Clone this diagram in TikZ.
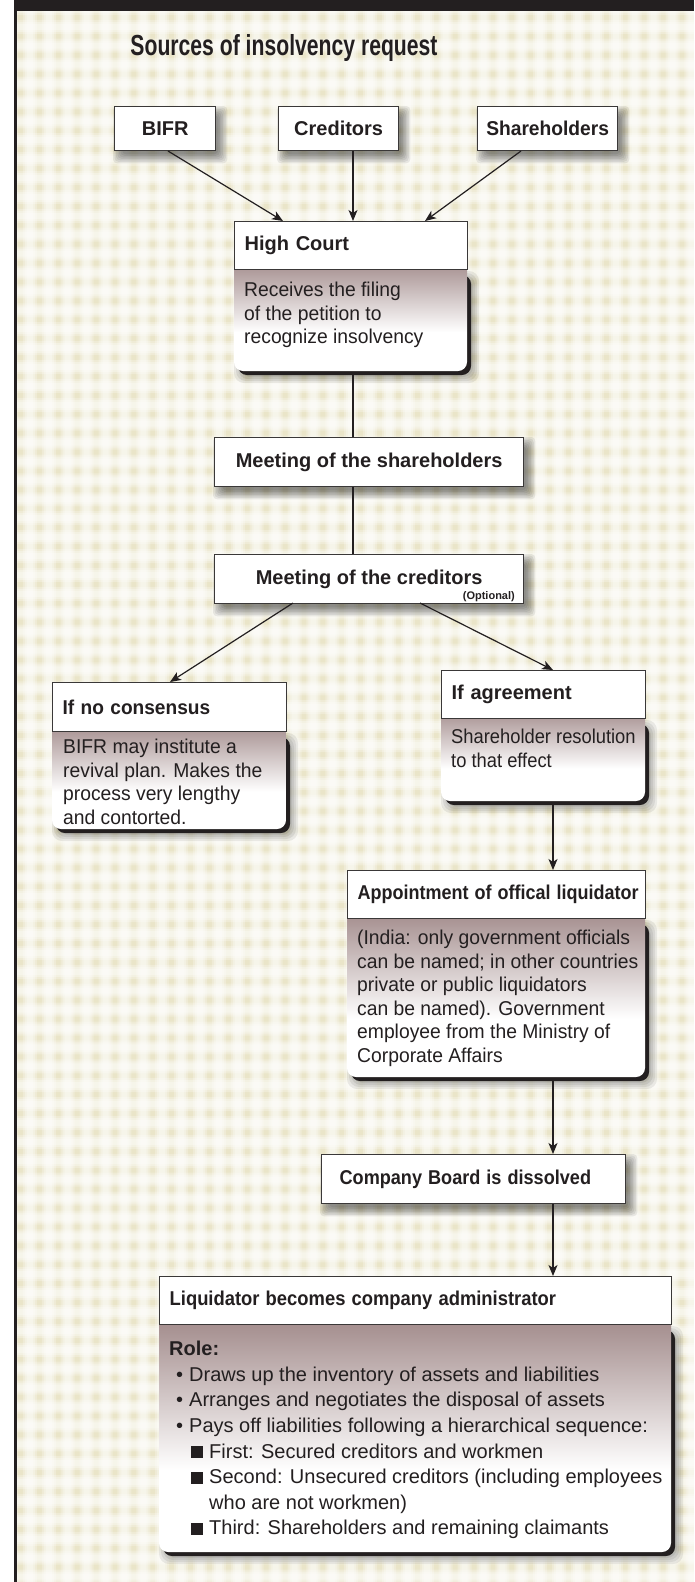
\documentclass[tikz,border=0pt]{standalone}
\usepackage{fontspec}
\usepackage{graphicx}
\setmainfont{Liberation Sans}
\newfontfamily\bodyfam[FakeStretch=0.965]{Liberation Sans}
\usetikzlibrary{arrows.meta,calc}
\definecolor{ink}{RGB}{35,31,32}
\definecolor{edge}{RGB}{58,56,56}
\definecolor{beige}{RGB}{234,229,201}
\definecolor{mauve}{RGB}{158,134,134}
\pgfdeclareverticalshading{bodyshade}{100bp}{color(0bp)=(white); color(25bp)=(white); color(42bp)=(white); color(75bp)=(mauve); color(100bp)=(mauve)}
\pgfdeclarelayer{bg}\pgfdeclarelayer{sh}\pgfdeclarelayer{body}
\pgfsetlayers{bg,sh,body,main}
\newcommand\hdfont{\fontsize{20}{24}\selectfont\bfseries}
\newcommand\bdfont{\bodyfam\fontsize{20}{23.6}\selectfont}
\newcommand\sq[2]{\scalebox{#1}[1]{#2}}
\newcommand\softsh[1]{%
  \begin{pgfonlayer}{sh}
    \foreach \r in {-3,-1.5,0,1.5,3,4.5,6}{%
      \fill[black,opacity=0.075,rounded corners=4pt] ($(#1.north west)+(5-\r,6-\r)$) rectangle ($(#1.south east)+(5+\r,6+\r)$);}
  \end{pgfonlayer}}
\newcommand\panel[4]{%
  \begin{pgfonlayer}{sh}
    \foreach \r in {-2,0,2,4,6}{%
      \fill[black,opacity=0.07,rounded corners=10pt] (#1+6-\r,#2+8-\r) rectangle (#3+6+\r,#4+6+\r);}
  \end{pgfonlayer}
  \begin{pgfonlayer}{body}
    \fill[ink,rounded corners=9pt] (#1+4,#2+6) rectangle (#3+4,#4+4);
    \shade[shading=bodyshade,rounded corners=9pt] (#1,#2-12) rectangle (#3,#4);
  \end{pgfonlayer}}
\tikzset{
  box/.style={draw=edge,line width=1.3pt,fill=white,inner sep=0pt,anchor=north west,font=\hdfont,text=ink},
  lbox/.style={box,align=left,inner xsep=10pt},
  btext/.style={anchor=north west,font=\bdfont,text=ink,align=left,inner sep=0pt},
  conn/.style={draw=ink,line width=1.2pt,-{Stealth[length=11pt,width=9pt,inset=3pt]}},
  link/.style={draw=ink,line width=1.2pt},
}
\begin{document}
\begin{tikzpicture}[x=1pt,y=-1pt]
\useasboundingbox (0,0) rectangle (694,1582);
% background
\begin{pgfonlayer}{bg}
  \fill[beige] (17,11) rectangle (694,1582);
  \begin{scope}
    \clip (17,11) rectangle (694,1582);
    \fill[white,opacity=0.25] \foreach \i in {0,...,36} {(11+18.9*\i-7,11) rectangle ++(14,1571)};
    \fill[white,opacity=0.3] \foreach \i in {0,...,36} {(11+18.9*\i-5,11) rectangle ++(10,1571)};
    \fill[white,opacity=0.3] \foreach \i in {0,...,36} {(11+18.9*\i-3,11) rectangle ++(6,1571)};
    \fill[white,opacity=0.25] \foreach \j in {0,...,83} {(17,7.9+18.9*\j-7) rectangle ++(677,14)};
    \fill[white,opacity=0.3] \foreach \j in {0,...,83} {(17,7.9+18.9*\j-5) rectangle ++(677,10)};
    \fill[white,opacity=0.3] \foreach \j in {0,...,83} {(17,7.9+18.9*\j-3) rectangle ++(677,6)};
  \end{scope}
  \fill[ink] (14,0) rectangle (694,11);
  \fill[ink] (14,0) rectangle (17,1582);
\end{pgfonlayer}

% title
\node[anchor=base,font=\bfseries\fontsize{29}{31}\selectfont,text=ink,inner sep=0pt] (title) at (284,55) {\sq{0.73}{Sources of insolvency request}};

% source boxes
\node[box,minimum width=101pt,minimum height=44pt] (bifr) at (114,106) {BIFR};
\node[box,minimum width=120pt,minimum height=44pt] (cred) at (278,106) {Creditors};
\node[box,minimum width=140pt,minimum height=44pt] (share) at (477,106) {\sq{0.96}{Shareholders}};
\softsh{bifr}\softsh{cred}\softsh{share}

% High Court
\panel{234}{269}{467}{371}
\node[lbox,text width=213pt,minimum height=48pt] (hc) at (234,221) {High Court};
\node[btext] (hctext) at (244,282) {Receives the filing\\of the petition to\\recognize insolvency};

\node[box,minimum width=309pt,minimum height=49pt] (msh) at (214,437) {Meeting of the shareholders};
\node[box,minimum width=309pt,minimum height=49pt] (mcr) at (214,554) {Meeting of the creditors};
\node[anchor=base east,font=\bfseries\fontsize{11}{12}\selectfont,text=ink,inner sep=0pt] (opt) at (515,599) {(Optional)};
\softsh{msh}\softsh{mcr}

% If no consensus
\panel{52}{731}{286}{829}
\node[lbox,text width=214pt,minimum height=49pt] (nocons) at (52,682) {\sq{0.955}{If no consensus}};
\node[btext] (nctext) at (63,739) {BIFR may institute a\\revival plan. Makes the\\process very lengthy\\and contorted.};

% If agreement
\panel{441}{718}{645}{801}
\node[lbox,text width=184pt,minimum height=48pt] (agree) at (441,670) {If agreement};
\node[btext] (agtext) at (451,729) {\sq{0.95}{Shareholder resolution}\\\sq{0.95}{to that effect}};

% Appointment
\panel{347}{918}{645}{1077}
\node[lbox,text width=278pt,minimum height=48pt] (appt) at (347,870) {\sq{0.9}{Appointment of offical liquidator}};
\node[btext,font=\bodyfam\fontsize{20}{23.5}\selectfont] (aptext) at (357,930) {(India: only government officials\\can be named; in other countries\\private or public liquidators\\can be named). Government\\employee from the Ministry of\\Corporate Affairs};

% Company board
\node[box,align=left,inner xsep=18pt,text width=268pt,minimum height=49pt] (board) at (321,1154) {\sq{0.905}{Company Board is dissolved}};
\softsh{board}

% Liquidator
\panel{159}{1324}{671}{1552}
\node[lbox,text width=492pt,minimum height=48pt] (liq) at (159,1276) {\sq{0.92}{Liquidator becomes company administrator}};
\node[btext,font=\fontsize{20}{25.6}\selectfont] (liqtext) at (169,1341) {\textbf{Role:}\\
\hspace*{7pt}\textbullet\hspace*{6pt}Draws up the inventory of assets and liabilities\\
\hspace*{7pt}\textbullet\hspace*{6pt}Arranges and negotiates the disposal of assets\\
\hspace*{7pt}\textbullet\hspace*{6pt}Pays off liabilities following a hierarchical sequence:\\
\hspace*{22pt}\rule{12pt}{12pt}\hspace*{6pt}First: Secured creditors and workmen\\
\hspace*{22pt}\rule{12pt}{12pt}\hspace*{6pt}Second: Unsecured creditors (including employees\\
\hspace*{40pt}who are not workmen)\\
\hspace*{22pt}\rule{12pt}{12pt}\hspace*{6pt}Third: Shareholders and remaining claimants};

% connector end points
\coordinate (bifrout) at (168,151);
\coordinate (hcin1) at (283,221);
\coordinate (shout) at (521,151);
\coordinate (hcin3) at (425,221);
\coordinate (hcb) at (353,375);
\coordinate (mcrl) at (293,603);
\coordinate (mcrr) at (420,603);
\coordinate (ncin) at (170,682);
\coordinate (agin) at (553,670);
\coordinate (agb) at (553,805);
\coordinate (apb) at (553,1081);

\draw[conn] (bifrout) -- (hcin1);
\draw[conn] (cred.south -| hcb) -- (hc.north -| hcb);
\draw[conn] (shout) -- (hcin3);
\draw[link] (hcb) -- (msh.north -| hcb);
\draw[link] (msh.south -| hcb) -- (mcr.north -| hcb);
\draw[conn] (mcrl) -- (ncin);
\draw[conn] (mcrr) -- (agin);
\draw[conn] (agb) -- (appt.north -| agb);
\draw[conn] (apb) -- (board.north -| apb);
\draw[conn] (board.south -| apb) -- (liq.north -| apb);
\end{tikzpicture}
\end{document}
